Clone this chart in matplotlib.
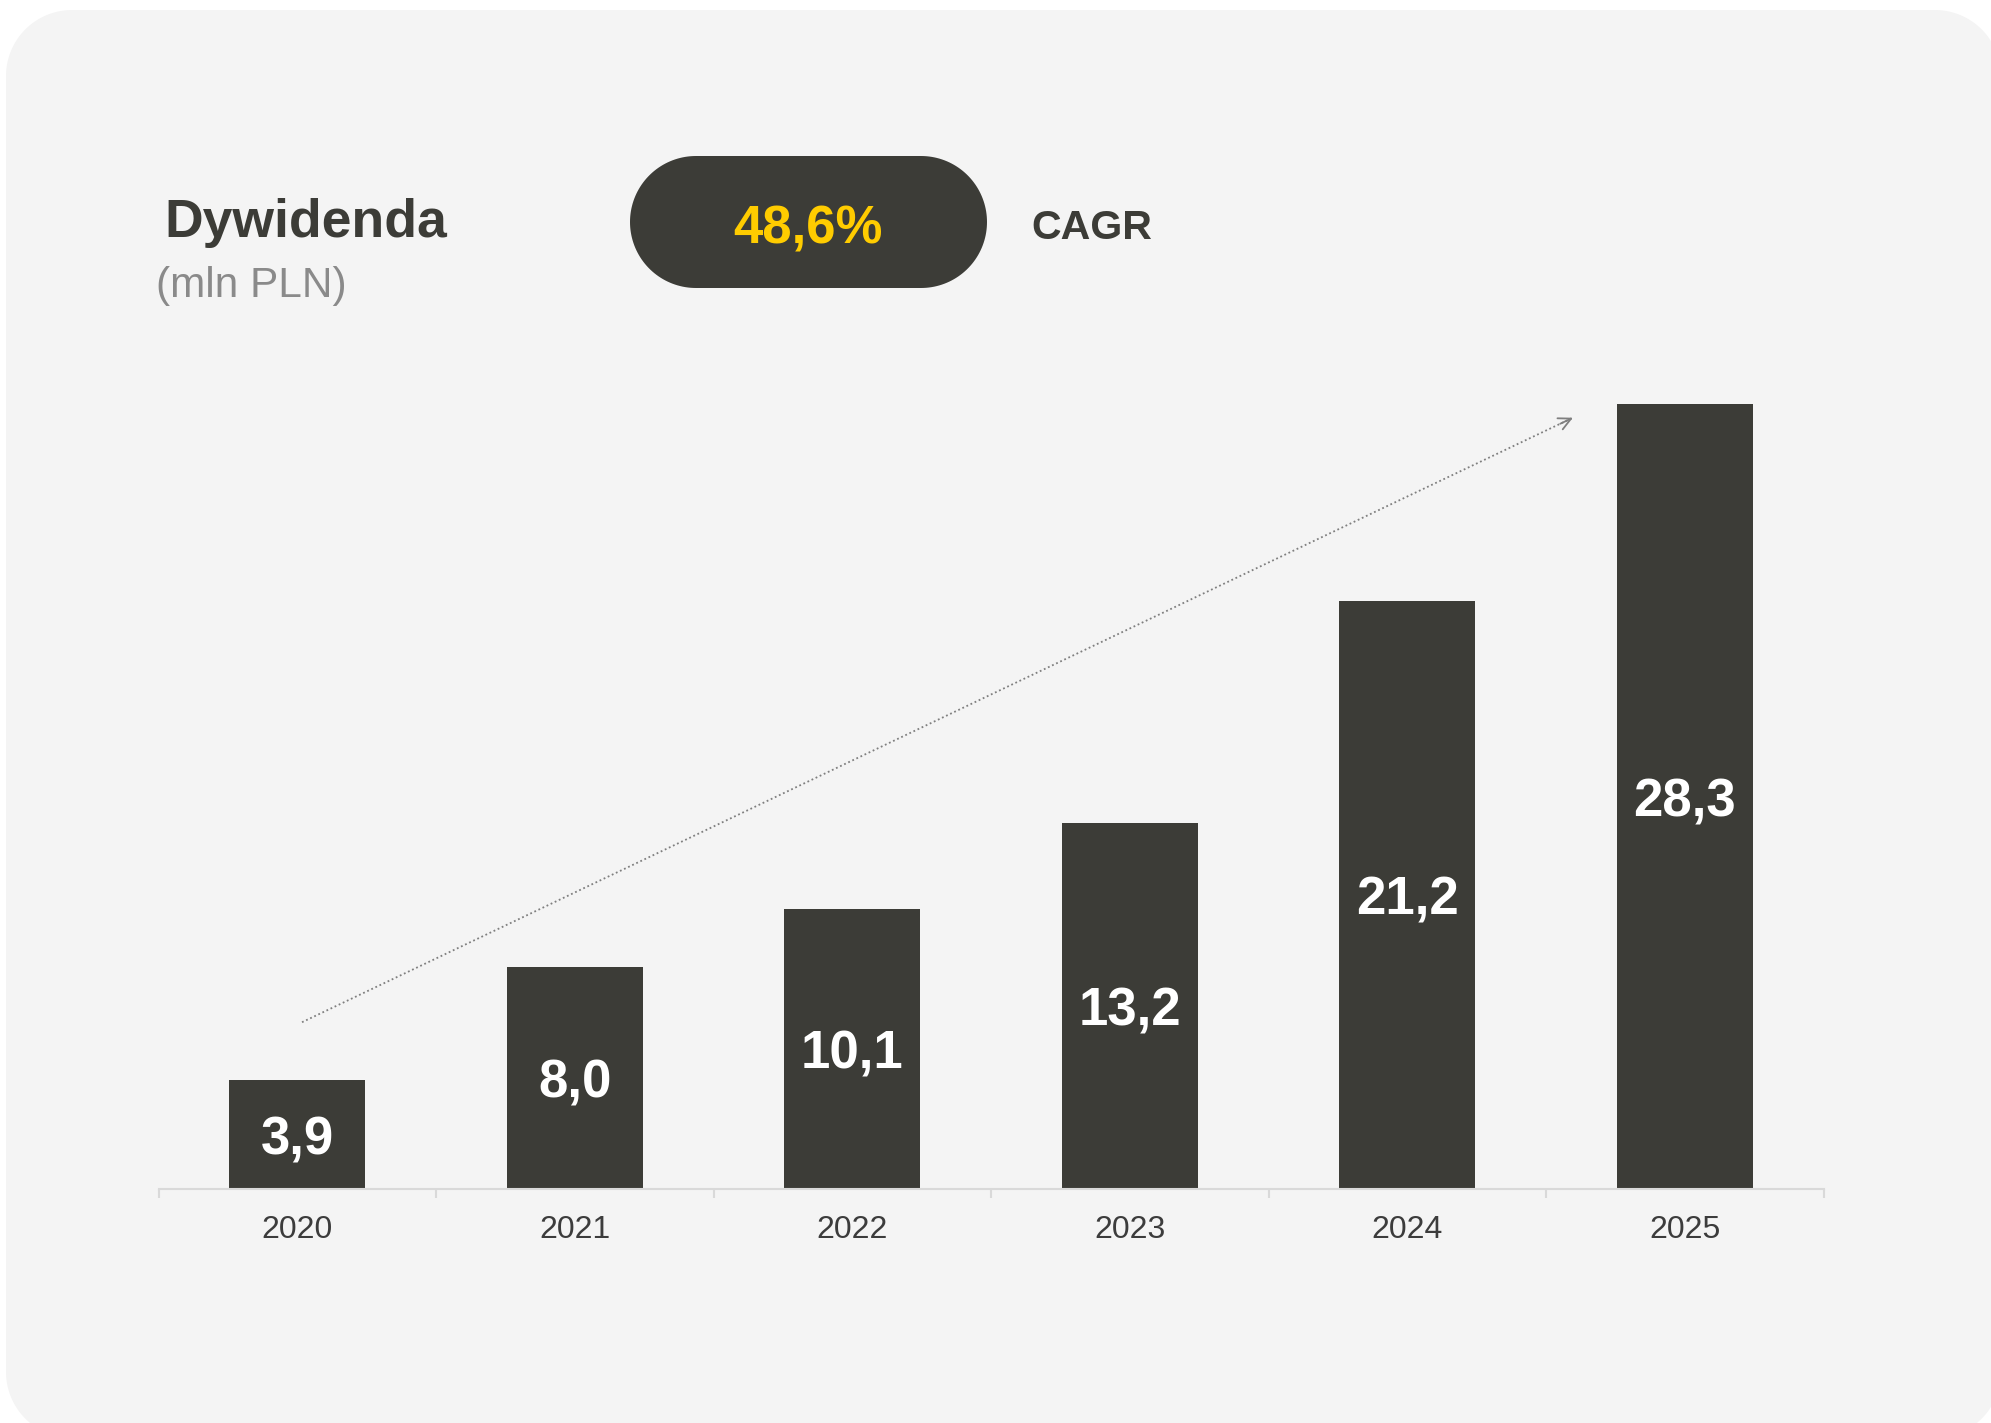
import matplotlib
matplotlib.use("Agg")
import matplotlib.pyplot as plt
import numpy as np
from matplotlib.patches import Polygon
from matplotlib.transforms import offset_copy

years = ["2020", "2021", "2022", "2023", "2024", "2025"]
values = [3.9, 8.0, 10.1, 13.2, 21.2, 28.3]
value_labels = ["3,9", "8,0", "10,1", "13,2", "21,2", "28,3"]
title = "Dywidenda"
subtitle = "(mln PLN)"
cagr_value = "48,6%"
cagr_label = "CAGR"

DARK = "#3c3c37"
BG = "#f4f4f4"
FONT = "Liberation Sans"

W, H = 1991, 1423


def rounded_rect(x0, y0, w, h, r, n=40):
    """Vertices of a rectangle with circular-arc corners."""
    pts = []
    corners = [(x0 + w - r, y0 + h - r, 0), (x0 + r, y0 + h - r, 90),
               (x0 + r, y0 + r, 180), (x0 + w - r, y0 + r, 270)]
    for cx, cy, a0 in corners:
        t = np.radians(np.linspace(a0, a0 + 90, n))
        pts.extend(zip(cx + r * np.cos(t), cy + r * np.sin(t)))
    return np.array(pts)


fig = plt.figure(figsize=(W / 100, H / 100), dpi=100)
fig.patch.set_facecolor("white")

# background axes in pixel coordinates
bg = fig.add_axes([0, 0, 1, 1], zorder=0)
bg.set_xlim(0, W)
bg.set_ylim(0, H)
bg.axis("off")
bg.add_patch(Polygon(rounded_rect(6, -15, 2001 - 6, 1413 + 15, 66),
                     closed=True, facecolor=BG, edgecolor="none"))
bg.add_patch(Polygon(rounded_rect(630, H - 288, 987 - 630, 132, 66),
                     closed=True, facecolor=DARK, edgecolor="none"))

bg.text(164, H - 237.5, title, family=FONT, fontweight="bold",
        fontsize=38.5, color=DARK, ha="left", va="baseline")
bg.text(156, H - 297, subtitle, family=FONT, fontsize=30.5,
        color="#8a8a8a", ha="left", va="baseline")
bg.text(808, H - 243.6, cagr_value, family=FONT, fontweight="bold",
        fontsize=38, color="#ffcc00", ha="center", va="baseline")
bg.text(1031, H - 239.4, cagr_label, family=FONT, fontweight="bold",
        fontsize=29.6, color=DARK, ha="left", va="baseline")

# chart axes
left_px, right_px, base_px = 158.7, 1823.5, 1188.6
ymax = 32.0
px_per_unit = 27.73
ax = fig.add_axes([left_px / W, (H - base_px) / H,
                   (right_px - left_px) / W, ymax * px_per_unit / H], zorder=1)
ax.set_facecolor("none")
x = list(range(len(years)))
ax.bar(x, values, width=0.49, color=DARK, zorder=2)
lab_tr = offset_copy(ax.transData, fig=fig, x=0, y=-6, units="dots")
for xi, v, lab in zip(x, values, value_labels):
    ax.text(xi, v / 2, lab, family=FONT, fontweight="bold", fontsize=38,
            color="white", ha="center", va="center", zorder=3,
            transform=lab_tr)

ax.set_xlim(-0.5, len(years) - 0.5)
ax.set_ylim(0, ymax)
for s in ["top", "right", "left"]:
    ax.spines[s].set_visible(False)
ax.spines["bottom"].set_color("#d9d9d9")
ax.spines["bottom"].set_linewidth(1.5)
ax.set_yticks([])
ax.set_xticks(x)
ax.set_xticklabels(years, family=FONT, fontsize=23, color="#3c3c3c")
ax.tick_params(axis="x", which="major", length=0, pad=19)
ax.set_xticks([i - 0.5 for i in range(len(years) + 1)], minor=True)
ax.tick_params(axis="x", which="minor", length=6.5, width=1.5, color="#d9d9d9")

# trend arrow (dotted)
x0, y0 = 0.0165, 6.0
x1, y1 = 4.597, 27.8
ax.plot([x0, x1], [y0, y1], linestyle=(0, (1, 1.5)), color="#7f7f7f",
        linewidth=1.3, zorder=1)
dx, dy = (x1 - x0), (y1 - y0)
ax.annotate("", xy=(x1, y1), xytext=(x1 - dx * 0.01, y1 - dy * 0.01),
            arrowprops=dict(arrowstyle="->", color="#7f7f7f", lw=1.3,
                            mutation_scale=22, shrinkA=0, shrinkB=0),
            zorder=1)

fig.savefig("out.png", dpi=100, facecolor="white")
